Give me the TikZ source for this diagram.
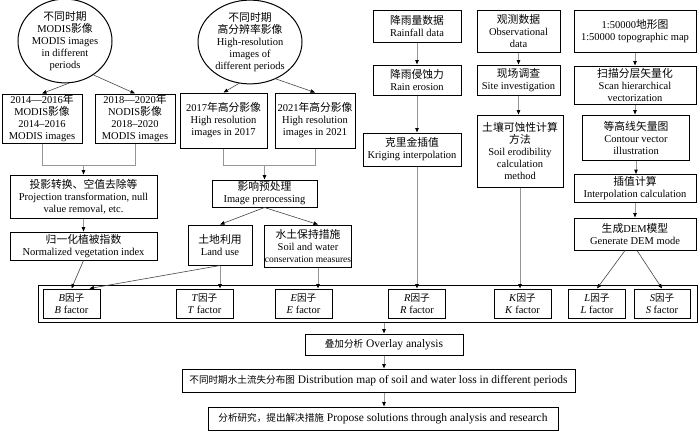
\documentclass[tikz,border=0pt]{standalone}
\usepackage{fontspec}
\setmainfont{Liberation Serif}
\newfontfamily\cjk{Noto Sans CJK SC}
\newcommand\zh[1]{{\cjk\fontsize{10.8}{12}\selectfont #1}}
\newcommand\zhs[1]{{\cjk\fontsize{9.6}{12}\selectfont #1}}
\newcommand\lat{\fontsize{10.5}{12}\selectfont}
\newcommand\latbig{\fontsize{11.5}{13}\selectfont}
\usetikzlibrary{arrows.meta,shapes.geometric,calc}
\definecolor{lc}{RGB}{150,150,150}
\definecolor{dc}{RGB}{70,70,70}
\begin{document}
\begin{tikzpicture}[x=1pt,y=-1pt,
  box/.style={draw=black,line width=1pt,align=center,inner sep=0.5pt,font=\lat},
  ell/.style={draw=black,line width=1pt,ellipse,align=center,inner sep=0pt,font=\lat},
  fac/.style={box,minimum width=57pt,minimum height=29pt},
  con/.style={draw=lc,line width=1pt,-{Triangle[length=4.5pt,width=3.5pt,color=black]}},
  dcon/.style={draw=dc,line width=0.6pt,-{Triangle[length=4.5pt,width=3.5pt,color=black]}},
  ln/.style={draw=lc,line width=1pt}]
\useasboundingbox (0,0) rectangle (700,431);
% top-left: MODIS
\node[ell,minimum width=94pt,minimum height=78pt] (e1) at (65,41) {\zh{不同时期}\\MODIS\zh{影像}\\MODIS images\\in different\\periods};
\node[box,minimum width=80pt,minimum height=49pt] (m1) at (42,118.5) {2014—2016\zh{年}\\MODIS\zh{影像}\\2014–2016\\MODIS images};
\node[box,minimum width=80pt,minimum height=49pt] (m2) at (135,118.5) {2018—2020\zh{年}\\NODIS\zh{影像}\\2018–2020\\MODIS images};
% high resolution
\node[ell,minimum width=104pt,minimum height=80pt] (e2) at (250,42) {\zh{不同时期}\\\zh{高分辨率影像}\\High-resolution\\images of\\different periods};
\node[box,minimum width=87pt,minimum height=55pt] (h1) at (223.5,120.5) {2017\zh{年高分影像}\\High resolution\\images in 2017};
\node[box,minimum width=80pt,minimum height=55pt] (h2) at (315,120.5) {2021\zh{年高分影像}\\High resolution\\images in 2021};
% rainfall
\node[box,minimum width=88pt,minimum height=32pt] (rain) at (417,26) {\zh{降雨量数据}\\Rainfall data};
\node[box,minimum width=88pt,minimum height=30pt] (eros) at (417,80) {\zh{降雨侵蚀力}\\Rain erosion};
\node[box,minimum width=98pt,minimum height=33pt] (krig) at (412,149.5) {\zh{克里金插值}\\Kriging interpolation};
% observation
\node[box,minimum width=83pt,minimum height=42pt] (obs) at (518.5,31) {\zh{观测数据}\\Observational\\data};
\node[box,minimum width=83pt,minimum height=30pt] (site) at (518.5,80) {\zh{现场调查}\\Site investigation};
\node[box,minimum width=86pt,minimum height=72pt] (soil) at (520,151) {\zh{土壤可蚀性计算}\\\zh{方法}\\Soil erodibility\\calculation\\method};
% topographic
\node[box,minimum width=122pt,minimum height=42pt] (topo) at (635,31) {1:50000\zh{地形图}\\1:50000 topographic map};
\node[box,minimum width=122pt,minimum height=38pt] (scan) at (635,85) {\zh{扫描分层矢量化}\\Scan hierarchical\\vectorization};
\node[box,minimum width=107pt,minimum height=45pt] (cont) at (636,137.5) {\zh{等高线矢量图}\\Contour vector\\illustration};
\node[box,minimum width=122pt,minimum height=28pt] (interp) at (635,188.5) {\zh{插值计算}\\Interpolation calculation};
\node[box,minimum width=122pt,minimum height=32pt] (dem) at (635,234) {\zh{生成}DEM\zh{模型}\\Generate DEM mode};
% middle left
\node[box,minimum width=147pt,minimum height=43pt] (proj) at (83.5,196.5) {\zh{投影转换、空值去除等}\\Projection transformation, null\\value removal, etc.};
\node[box,minimum width=147pt,minimum height=28pt] (ndvi) at (83.5,246) {\zh{归一化植被指数}\\Normalized vegetation index};
\node[box,minimum width=105pt,minimum height=27pt] (prep) at (264.5,193.5) {\zh{影响预处理}\\Image prerocessing};
\node[box,minimum width=64pt,minimum height=40pt] (land) at (220,245) {\zh{土地利用}\\Land use};
\node[box,minimum width=86pt,minimum height=42pt] (swc) at (308,246) {\zh{水土保持措施}\\Soil and water\\{\fontsize{9.5}{12}\selectfont conservation measures}};
% factor frame
\node[draw=black,line width=1pt,minimum width=659pt,minimum height=37pt,inner sep=0pt] (frame) at (367.5,303.5) {};
\node[fac] (B) at (71.5,303.5) {\textit{B}\zhs{因子}\\\textit{B} factor};
\node[fac] (T) at (204.5,303.5) {\textit{T}\zhs{因子}\\\textit{T} factor};
\node[fac] (E) at (303.5,303.5) {\textit{E}\zhs{因子}\\\textit{E} factor};
\node[fac] (R) at (417,303.5) {\textit{R}\zhs{因子}\\\textit{R} factor};
\node[fac] (K) at (522.5,303.5) {\textit{K}\zhs{因子}\\\textit{K} factor};
\node[fac] (L) at (597,303.5) {\textit{L}\zhs{因子}\\\textit{L} factor};
\node[fac,minimum width=56pt] (S) at (662,303.5) {\textit{S}\zhs{因子}\\\textit{S} factor};
% bottom
\node[box,font=\latbig,minimum width=158pt,minimum height=21pt] (over) at (384,344.5) {\zhs{叠加分析} Overlay analysis};
\node[box,font=\latbig,minimum width=393pt,minimum height=23pt] (dist) at (378.5,380.5) {\zhs{不同时期水土流失分布图} Distribution map of soil and water loss in different periods};
\node[box,font=\latbig,minimum width=350pt,minimum height=23pt] (prop) at (383,418.5) {\zhs{分析研究，提出解决措施} Propose solutions through analysis and research};
% connectors
\coordinate (jm) at (88,165);
\coordinate (jh) at (265,165);
\draw[dcon] (e1.275) -- (m1.north);
\draw[dcon] (e1.310) -- (m2.north);
\draw[dcon] (e2.255) -- (h1.north);
\draw[dcon] (e2.305) -- (h2.north);
\draw[ln] (m1.south) -- (m1.south |- jm) -- (m2.south |- jm) -- (m2.south);
\draw[con] (proj.north |- jm) -- (proj.north);
\draw[ln] (h1.south) -- (h1.south |- jh) -- (h2.south |- jh) -- (h2.south);
\draw[con] (prep.north |- jh) -- (prep.north);
\draw[con] (proj) -- (ndvi);
\draw[dcon] (prep.south) -- (land.north);
\draw[dcon] (prep.south) -- ([xshift=10pt]swc.north);
\draw[dcon] (ndvi.south) -- (B.north);
\draw[dcon] (land.south) -- ([xshift=18pt]B.north);
\draw[con] (land.south) -- (land.south |- T.north);
\draw[con] ([xshift=10pt]swc.south) -- ([xshift=10pt]swc.south |- E.north);
\draw[con] (rain) -- (eros);
\draw[con] (eros.south) -- (eros.south |- krig.north);
\draw[con] (R.north |- krig.south) -- (R.north);
\draw[con] (obs.south) -- (obs.south |- site.north);
\draw[con] (site.south) -- (site.south |- soil.north);
\draw[con] (soil.south) -- (soil.south |- K.north);
\draw[con] (topo.south) -- (topo.south |- scan.north);
\draw[con] (scan.south) -- (scan.south |- cont.north);
\draw[con] (cont.south) -- (cont.south |- interp.north);
\draw[con] (interp.south) -- (interp.south |- dem.north);
\draw[dcon] ([xshift=-10pt]dem.south) -- (L.north);
\draw[dcon] ([xshift=2pt]dem.south) -- (S.north);
\draw[con] (frame.south -| over.north) -- (over.north);
\draw[con] (over.south) -- (over.south |- dist.north);
\draw[con] (over.south |- dist.south) -- (over.south |- prop.north);
\end{tikzpicture}
\end{document}
